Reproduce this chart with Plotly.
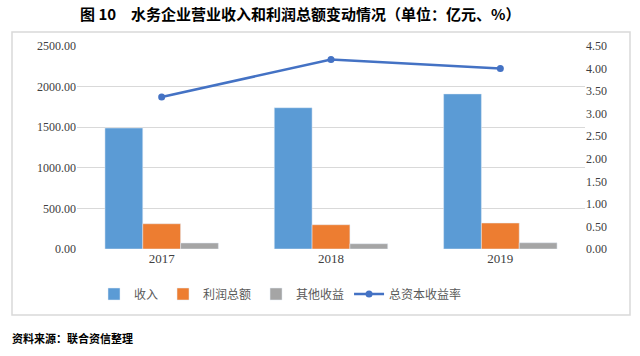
import plotly.graph_objects as go

years = ["2017", "2018", "2019"]
revenue = [1490, 1740, 1910]
profit = [311, 299, 320]
other_income = [74, 65, 77]
roa = [3.37, 4.20, 4.00]

left_ticks = [0, 500, 1000, 1500, 2000, 2500]
right_ticks = [0, 0.5, 1.0, 1.5, 2.0, 2.5, 3.0, 3.5, 4.0, 4.5]

serif = "Liberation Serif"
cjk = "Noto Sans CJK SC"

fig = go.Figure()
fig.add_trace(go.Bar(name="收入", x=years, y=revenue, marker_color="#5B9BD5"))
fig.add_trace(go.Bar(name="利润总额", x=years, y=profit, marker_color="#ED7D31"))
fig.add_trace(go.Bar(name="其他收益", x=years, y=other_income, marker_color="#A5A5A5"))
fig.add_trace(go.Scatter(name="总资本收益率", x=years, y=roa, yaxis="y2",
                         mode="lines+markers",
                         line=dict(color="#4472C4", width=2.5),
                         marker=dict(size=7, color="#4472C4")))

L, R, T, B = 77, 55, 46, 107
W, H = 640, 356
pw, ph = W - L - R, H - T - B

def px_x(x):
    return (x - L) / pw

def px_y(y):
    return (H - B - y) / ph

fig.update_layout(
    width=W, height=H,
    margin=dict(l=L, r=R, t=T, b=B),
    paper_bgcolor="white", plot_bgcolor="white",
    barmode="group", bargap=0.33, bargroupgap=0,
    font=dict(family=serif, size=12, color="#595959"),
    showlegend=True,
    legend=dict(orientation="h", x=px_x(94), xanchor="left", y=px_y(294), yanchor="middle",
                font=dict(family=cjk, size=12, color="#595959"), traceorder="normal",
                itemwidth=30),
    xaxis=dict(type="category", showgrid=False, showline=False, ticks="",
               tickfont=dict(family=serif, size=13, color="#404040")),
    yaxis=dict(range=[0, 2500], tickvals=left_ticks, tickformat=".2f",
               showgrid=True, gridcolor="#D9D9D9", gridwidth=1, zeroline=False,
               showline=False, ticks="", ticklen=0,
               tickfont=dict(family=serif, size=12, color="#404040")),
    yaxis2=dict(range=[0, 4.5], tickvals=right_ticks, tickformat=".2f",
                overlaying="y", side="right", showgrid=False, zeroline=False,
                showline=False, ticks="",
                tickfont=dict(family=serif, size=12, color="#404040")),
    shapes=[dict(type="rect", xref="paper", yref="paper",
                 x0=px_x(12), x1=px_x(630), y0=px_y(315), y1=px_y(32),
                 line=dict(color="#D9D9D9", width=1.5), fillcolor="rgba(0,0,0,0)",
                 layer="below")],
    annotations=[
        dict(text="<b>图 10　水务企业营业收入和利润总额变动情况（单位：亿元、%）</b>",
             xref="paper", yref="paper", x=px_x(300), y=px_y(14),
             xanchor="center", yanchor="middle", showarrow=False,
             font=dict(family=cjk, size=15, color="#000000")),
        dict(text="<b>资料来源：联合资信整理</b>",
             xref="paper", yref="paper", x=px_x(10), y=px_y(338),
             xanchor="left", yanchor="middle", showarrow=False,
             font=dict(family=cjk, size=11, color="#000000")),
    ],
)

fig.write_html("out.html", config={"displayModeBar": False},
               post_script="document.body.style.margin='0';")
